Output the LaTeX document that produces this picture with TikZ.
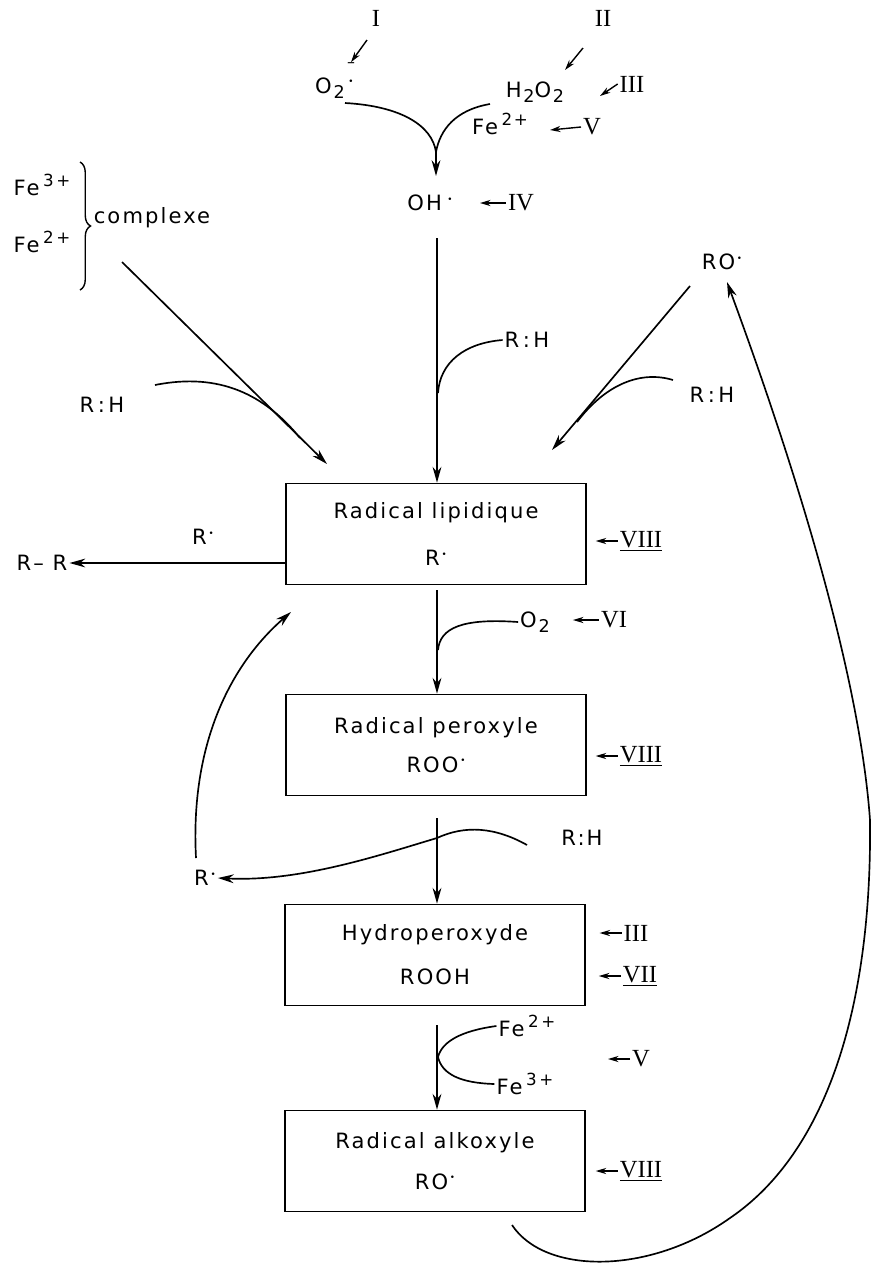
\documentclass[tikz,border=0pt]{standalone}
\usepackage{fontspec}
\setmainfont{DejaVu Sans}[LetterSpace=10]
\newfontfamily\romfont{Liberation Serif}
\usetikzlibrary{arrows.meta,decorations.pathreplacing}
\newcommand\rad{{\kern1pt\raisebox{0.75ex}{\tiny\textbullet}}}
\newcommand\lsub[1]{\kern1pt\raisebox{-0.45ex}{\fontsize{10}{12}\selectfont #1}}
\newcommand\lsup[1]{\kern2pt\raisebox{0.85ex}{\fontsize{9.5}{11}\selectfont #1}}
\begin{document}
\begin{tikzpicture}[x=0.02cm,y=-0.02cm,
  font=\fontsize{12}{14}\selectfont,
  ln/.style={line width=0.95pt},
  arr/.style={ln,-{Stealth[length=9pt,width=5pt]}},
  sarr/.style={line width=0.8pt,-{Stealth[length=6pt,width=3.5pt]}},
  box/.style={draw,line width=0.95pt,minimum width=6cm,minimum height=2.02cm,align=center,inner sep=0pt},
  lab/.style={inner sep=1pt},
  rom/.style={inner sep=1pt,font=\romfont\fontsize{14}{16}\selectfont}]
\useasboundingbox (0,0) rectangle (875,1276);

% boxes
\node[box] (b1) at (436,534) {Radical lipidique\\[13pt]R\rad};
\node[box] (b2) at (436,745) {Radical peroxyle\\[8pt]ROO\rad};
\node[box] (b3) at (435,955) {Hydroperoxyde\\[11pt]ROOH};
\node[box] (b4) at (435,1161) {Radical alkoxyle\\[9pt]RO\rad};

% top
\node[rom] (nI) at (376,18) {I};
\node[lab] (o2) at (330,88) {O\lsub{2}};
\node[inner sep=0pt,font=\fontsize{9}{9}\selectfont] (o2m) at (351,65) {–};
\node[inner sep=0pt,font=\fontsize{5}{5}\selectfont] (o2d) at (351,82) {\textbullet};
\coordinate (iA) at (367,40);
\draw[sarr] (iA) -- (o2m.north);
\node[rom] (nII) at (603,18) {II};
\coordinate (iiA) at (583,48);
\coordinate (iiB) at (565,70);
\draw[sarr] (iiA) -- (iiB);
\node[lab] (h2o2) at (535,92) {H\lsub{2}O\lsub{2}};
\node[rom] (nIII) at (632,84) {III};
\coordinate (iiiB) at (600,96);
\draw[sarr] (nIII.west) -- (iiiB);
\node[lab] (fe2a) at (500,124) {Fe\lsup{2+}};
\node[rom] (nVa) at (592,127) {V};
\coordinate (vB) at (550,130);
\draw[sarr] (nVa.west) -- (vB);
\coordinate (o2e) at (345,103);
\coordinate (h2e) at (490,104);
\coordinate (m0) at (436,152);
\node[lab] (oh) at (430,203) {OH\,\rad};
\draw[ln] (o2e) .. controls (400,106) and (432,125) .. (m0);
\draw[ln] (h2e) .. controls (455,110) and (440,130) .. (m0);
\draw[arr] (m0) -- (436,176);
\node[rom] (nIV) at (521,203) {IV};
\coordinate (ivB) at (480,203);
\draw[sarr] (nIV.west) -- (ivB);

% main vertical into box 1
\coordinate (t1) at (437,238);
\draw[arr] (t1) -- (b1.north -| t1);
\node[lab] (rh1) at (527,340) {R\,:\,H};
\coordinate (j1) at (438,393);
\draw[ln] (rh1.west) .. controls (465,343) and (440,362) .. (j1);

% left: iron complex
\node[lab] (fe3) at (42,185) {Fe\lsup{3\,+}};
\node[lab] (fe2) at (42,242) {Fe\lsup{2\,+}};
\draw[line width=0.8pt,decorate,decoration={brace,amplitude=6pt}] (80,162) -- (80,290) coordinate[midway] (brc);
\node[lab] (cplx) at (152,218) {complexe};
\coordinate (cA) at (122,262);
\coordinate (cB) at (327,464);
\draw[arr] (cA) -- (cB);
\node[lab] (rh2) at (102,405) {R\,:\,H};
\coordinate (rh2e) at (155,385);
\draw[ln] (rh2e) .. controls (220,372) and (265,395) .. (300,438);

% right: RO.
\node[lab] (ro) at (722,262) {RO\rad};
\coordinate (roA) at (690,286);
\coordinate (roB) at (552,450);
\draw[arr] (roA) -- (roB);
\node[lab] (rh3) at (712,395) {R\,:\,H};
\coordinate (rh3e) at (673,380);
\draw[ln] (rh3e) .. controls (640,370) and (605,385) .. (577,422);

% R-R
\node[lab] (rr) at (42,563) {R– R};
\draw[arr] (b1.west |- 0,563) -- (rr.east);
\node[lab] (rdot1) at (203,537) {R\rad};
\node[rom] (v81) at (641,541) {\underline{VIII}};
\draw[sarr] (v81.west) -- ++(-22,0);

% box1 -> box2
\coordinate (t2) at (437,590);
\draw[arr] (t2) -- (b2.north -| t2);
\node[lab] (o2b) at (535,622) {O\lsub{2}};
\coordinate (j2) at (438,650);
\draw[ln] (o2b.west) .. controls (462,618) and (440,628) .. (j2);
\node[rom] (nVI) at (614,620) {VI};
\draw[sarr] (nVI.west) -- ++(-26,0);
\node[rom] (v82) at (641,756) {\underline{VIII}};
\draw[sarr] (v82.west) -- ++(-22,0);

% box2 -> box3
\coordinate (t3) at (437,818);
\draw[arr] (t3) -- (b3.north -| t3);
\node[lab] (rh4) at (582,838) {R:H};
\node[lab] (rdot2) at (205,878) {R\rad};
\coordinate (rh4e) at (527,845);
\coordinate (j3) at (437,838);
\draw[arr] (rh4e) .. controls (495,827) and (465,825) .. (j3) .. controls (380,855) and (300,882) .. (rdot2.east);
\coordinate (rdA) at (196,858);
\coordinate (rdB) at (291,612);
\draw[arr] (rdA) .. controls (190,745) and (230,665) .. (rdB);
\node[rom] (nIIIb) at (636,933) {III};
\draw[sarr] (nIIIb.west) -- ++(-22,0);
\node[rom] (nVII) at (640,976) {\underline{VII}};
\draw[sarr] (nVII.west) -- ++(-22,0);

% box3 -> box4
\coordinate (t4) at (437,1025);
\draw[arr] (t4) -- (b4.north -| t4);
\node[lab] (fe2b) at (527,1026) {Fe\lsup{2\,+}};
\node[lab] (fe3b) at (525,1084) {Fe\lsup{3\,+}};
\coordinate (j4) at (438,1057);
\draw[ln] (fe2b.west) .. controls (460,1031) and (442,1042) .. (j4) .. controls (442,1074) and (460,1083) .. (fe3b.west);
\node[rom] (nVb) at (641,1059) {V};
\draw[sarr] (nVb.west) -- ++(-22,0);
\node[rom] (v84) at (641,1171) {\underline{VIII}};
\draw[sarr] (v84.west) -- ++(-22,0);

% big loop back to RO.
\coordinate (lA) at (512,1225);
\coordinate (lB) at (727,282);
\draw[arr] (lA) .. controls (545,1275) and (650,1275) .. (730,1218) .. controls (830,1150) and (872,1000) .. (870,820) .. controls (860,680) and (800,480) .. (lB);
\end{tikzpicture}
\end{document}
